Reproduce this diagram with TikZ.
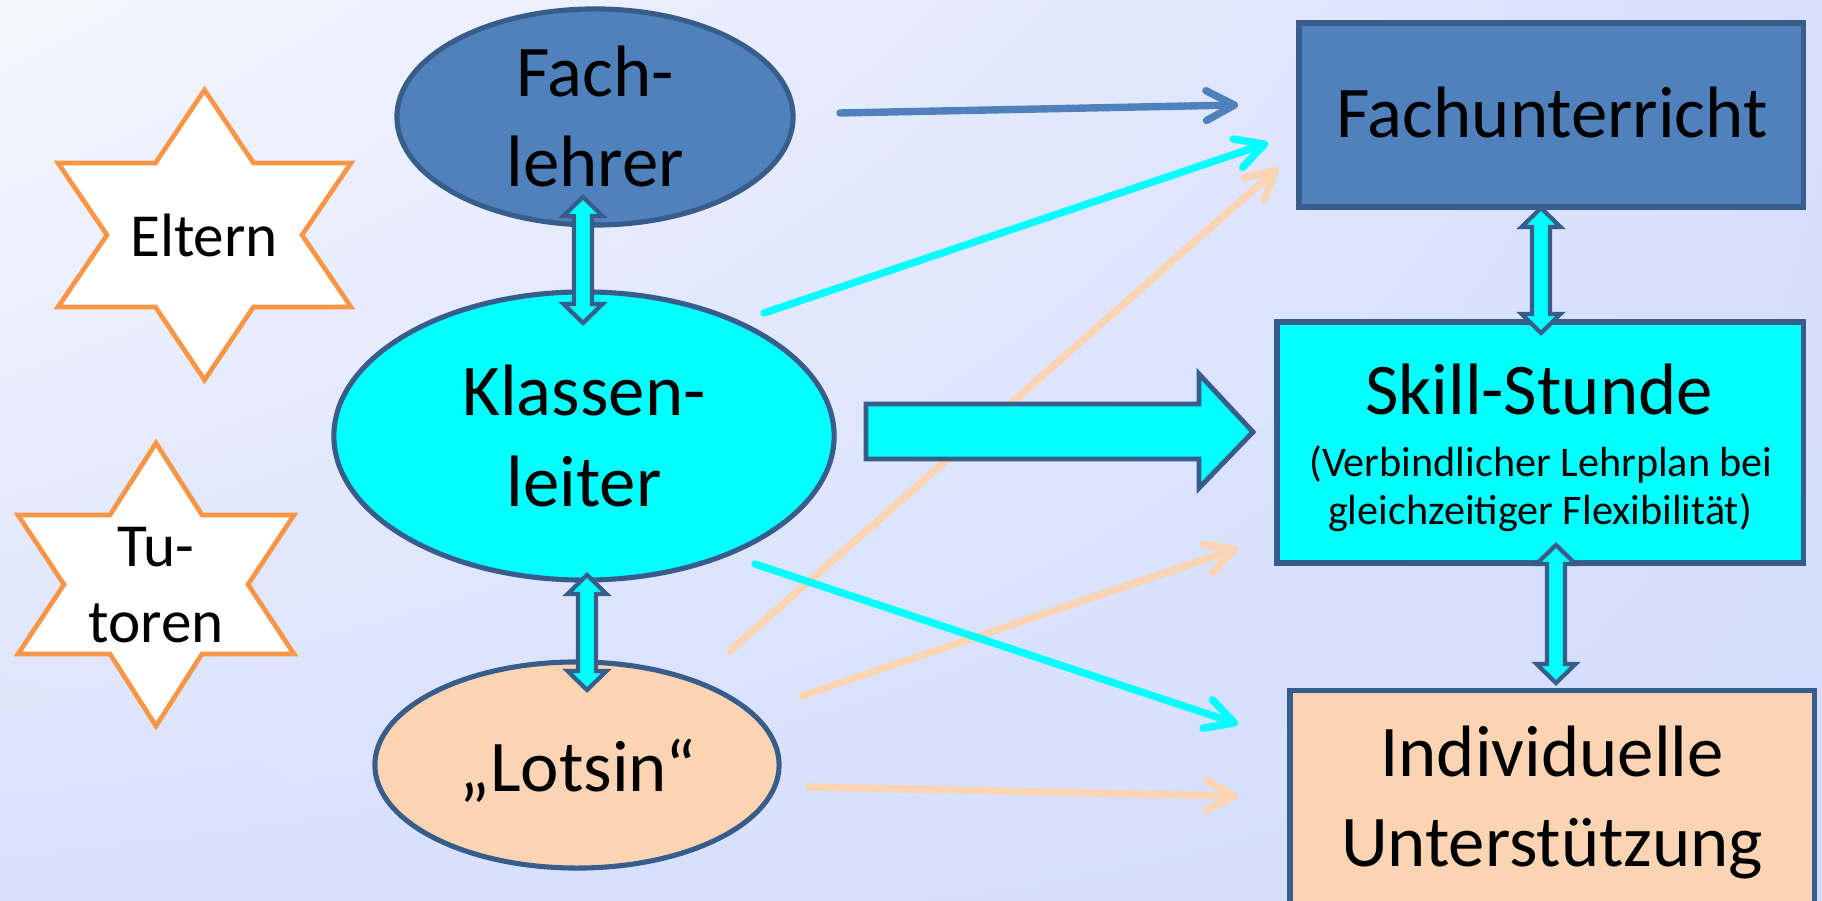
\documentclass[tikz,border=0pt]{standalone}
\usepackage{fontspec}
\setmainfont{Carlito}
\usetikzlibrary{shapes.geometric,arrows.meta,shadings}
\definecolor{fachblue}{HTML}{4F81BD}
\definecolor{bord}{HTML}{385D8A}
\definecolor{cyanc}{HTML}{00FFFF}
\definecolor{peach}{HTML}{FBD4B4}
\definecolor{starorange}{HTML}{F79646}
\definecolor{bgUL}{HTML}{F6F7FE}
\definecolor{bgUR}{HTML}{D6DFFC}
\definecolor{bgLL}{HTML}{D8E1FC}
\definecolor{bgLR}{HTML}{D3DEFE}
\newcommand{\vdblarrow}[3]{%
  \filldraw[dblarrow] (#1,#2) -- (#1+19.5,#2+19) -- (#1+9,#2+19) -- (#1+9,#3-19)
   -- (#1+19.5,#3-19) -- (#1,#3) -- (#1-19.5,#3-19) -- (#1-9,#3-19)
   -- (#1-9,#2+19) -- (#1-19.5,#2+19) -- cycle;}
\tikzset{
  shapeb/.style={draw=bord, line width=1.45pt},
  boxb/.style={draw=bord, line width=1.5pt, rectangle, inner sep=0pt},
  bigtxt/.style={font=\fontsize{20.7}{25.6}\selectfont, align=center, inner sep=0pt},
  smalltxt/.style={font=\fontsize{12}{13.7}\selectfont, inner sep=0pt},
  startxt/.style={font=\fontsize{17.4}{21.6}\selectfont, align=center, inner sep=0pt},
  starb/.style={draw=starorange, fill=white, line width=1.35pt},
  dblarrow/.style={draw=bord, fill=cyanc, line width=1.2pt},
  fatarrow/.style={draw=bord, fill=cyanc, line width=1.4pt},
  thinarrow/.style={line width=2.1pt, line cap=round, -{Straight Barb[length=8pt,width=8.5pt,round]}},
}
\begin{document}
\begin{tikzpicture}[x=0.01cm, y=-0.01cm]
\useasboundingbox (0,0) rectangle (1822,901);
\clip (0,0) rectangle (1822,901);
\shade[upper left=bgUL, upper right=bgUR, lower left=bgLL, lower right=bgLR] (0,0) rectangle (1822,901);

% stars
\draw[starb] (204.5,90) -- (253.5,163) -- (351,163) -- (302,235) -- (351,307) -- (253.5,307)
  -- (204.5,380) -- (155.5,307) -- (58,307) -- (107,235) -- (58,163) -- (155.5,163) -- cycle;
\node[startxt, anchor=base] (eltern) at (204,257) {Eltern};
\draw[starb] (156,443) -- (202,515) -- (294,515) -- (248,584.5) -- (294,654) -- (202,654)
  -- (156,726) -- (110,654) -- (18,654) -- (64,584.5) -- (18,515) -- (110,515) -- cycle;
\node[startxt] (tutoren) at (156,585) {Tu-\\toren};

% left ellipses
\node[ellipse, shapeb, fill=fachblue, minimum width=3.96cm, minimum height=2.16cm] (fach) at (595,117) {};
\node[bigtxt] (fachtxt) at (595,116) {Fach-\\lehrer};
\node[ellipse, shapeb, fill=cyanc, minimum width=5.0cm, minimum height=2.88cm] (klassen) at (584,436) {};
\node[bigtxt] (klassentxt) at (584,436) {Klassen-\\leiter};
\node[ellipse, shapeb, fill=peach, minimum width=4.04cm, minimum height=2.06cm] (lotsin) at (577,765) {};
\node[bigtxt] (lotsintxt) at (578,771) {„Lotsin“};

% right boxes
\node[boxb, fill=fachblue, minimum width=5.04cm, minimum height=1.84cm] (fachu) at (1551,115) {};
\node[bigtxt] (fachutxt) at (1552,113) {Fachunterricht};
\node[boxb, fill=cyanc, minimum width=5.26cm, minimum height=2.41cm] (skill) at (1540,442.5) {};
\node[bigtxt, anchor=base] (skilltxt) at (1539,415) {Skill-Stunde};
\node[smalltxt, anchor=base] (skillsubA) at (1541,477) {(Verbindlicher Lehrplan bei};
\node[smalltxt, anchor=base] (skillsubB) at (1540,525) {gleichzeitiger Flexibilität)};
\node[boxb, fill=peach, minimum width=5.24cm, minimum height=3cm, anchor=north] (indiv) at (1552,688) {};
\node[bigtxt] (indivtxt) at (1552,802) {Individuelle\\Unterstützung};

% thin arrows: coordinates
\coordinate (pA) at (730,651);  \coordinate (pAe) at (1278,168);
\coordinate (pB) at (802,696);  \coordinate (pBe) at (1238,548);
\coordinate (pC) at (809,787);  \coordinate (pCe) at (1238,796);
\coordinate (cA) at (764,313);  \coordinate (cAe) at (1268,143);
\coordinate (cB) at (755,564);  \coordinate (cBe) at (1238,724);
\coordinate (bA) at (840,113);  \coordinate (bAe) at (1238,105);

\draw[thinarrow, draw=peach] (pA) -- (pAe);
\draw[thinarrow, draw=peach] (pB) -- (pBe);
\draw[thinarrow, draw=peach] (pC) -- (pCe);
\draw[thinarrow, draw=cyanc] (cA) -- (cAe);
\draw[thinarrow, draw=cyanc] (cB) -- (cBe);
\draw[thinarrow, draw=fachblue] (bA) -- (bAe);

% fat arrow Klassenleiter -> Skill-Stunde
\filldraw[fatarrow] (866,404) -- (1199,404) -- (1199,374) -- (1253,432) -- (1199,488)
  -- (1199,459) -- (866,459) -- cycle;

% double arrows
\vdblarrow{583}{197}{323}
\vdblarrow{587}{575}{690}
\vdblarrow{1541}{208}{333}
\vdblarrow{1556}{545}{683}
\end{tikzpicture}
\end{document}
